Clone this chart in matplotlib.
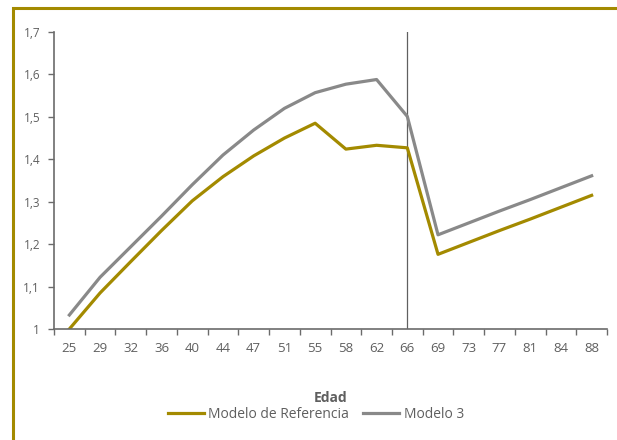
import matplotlib
matplotlib.use("Agg")
import matplotlib.pyplot as plt
from matplotlib.patches import Rectangle
from matplotlib.ticker import FixedLocator, FuncFormatter

plt.rcParams['font.family'] = ['Open Sans', 'DejaVu Sans']

# Edades (eje de categorías)
edades = ['25', '29', '32', '36', '40', '44', '47', '51', '55',
          '58', '62', '66', '69', '73', '77', '81', '84', '88']

modelo_ref = [1.000, 1.085, 1.159, 1.232, 1.302, 1.359, 1.408, 1.450, 1.485,
              1.424, 1.433, 1.427, 1.176, 1.204, 1.232, 1.259, 1.287, 1.315]
modelo_3 = [1.033, 1.122, 1.194, 1.266, 1.340, 1.410, 1.469, 1.520, 1.557,
            1.577, 1.588, 1.501, 1.222, 1.250, 1.278, 1.305, 1.333, 1.361]

edad_jubilacion = '66'

oro = '#A38A00'
gris = '#898989'
texto = '#5f5f5f'
eje = '#6b6b6b'

fig = plt.figure(figsize=(6.17, 4.40), dpi=100)
ax = fig.add_axes([54 / 617, 1 - 329 / 440, 553 / 617, 297 / 440])

x = list(range(len(edades)))
ax.plot(x, modelo_ref, color=oro, lw=2.3, label='Modelo de Referencia')
ax.plot(x, modelo_3, color=gris, lw=2.3, label='Modelo 3')
ax.axvline(edades.index(edad_jubilacion), color='#606060', lw=0.9, zorder=1)

ax.set_xlim(-0.5, len(edades) - 0.5)
ax.set_ylim(1, 1.7)

ax.set_xticks(x)
ax.set_xticklabels(edades)
ax.xaxis.set_minor_locator(FixedLocator([i - 0.5 for i in range(len(edades) + 1)]))
ax.tick_params(axis='x', which='major', length=0, pad=9, labelsize=9.5, labelcolor=texto)
ax.tick_params(axis='x', which='minor', length=4, width=1, color=eje, direction='out')

ax.set_yticks([1.0, 1.1, 1.2, 1.3, 1.4, 1.5, 1.6, 1.7])
ax.yaxis.set_major_formatter(FuncFormatter(lambda v, p: ('%g' % round(v, 1)).replace('.', ',')))
ax.tick_params(axis='y', length=4, width=1, color=eje, labelsize=8.5, labelcolor=texto, pad=6)

for lado in ['top', 'right']:
    ax.spines[lado].set_visible(False)
for lado in ['left', 'bottom']:
    ax.spines[lado].set_color(eje)
    ax.spines[lado].set_linewidth(1.2)

ax.set_xlabel('Edad', fontsize=10, fontweight='bold', color=texto, labelpad=26)

fig.legend(loc='center', bbox_to_anchor=(316 / 617, 1 - 414 / 440), ncol=2,
           frameon=False, fontsize=10, labelcolor=texto, handlelength=2.6,
           handletextpad=0.3, columnspacing=1.0)

# marco dorado
fig.patches.append(Rectangle((12.5 / 617, -0.1), 2.0, 1.1 - 8 / 440,
                             transform=fig.transFigure, fill=False,
                             edgecolor=oro, lw=2.2, zorder=0))

fig.savefig('out.png', dpi=100)
